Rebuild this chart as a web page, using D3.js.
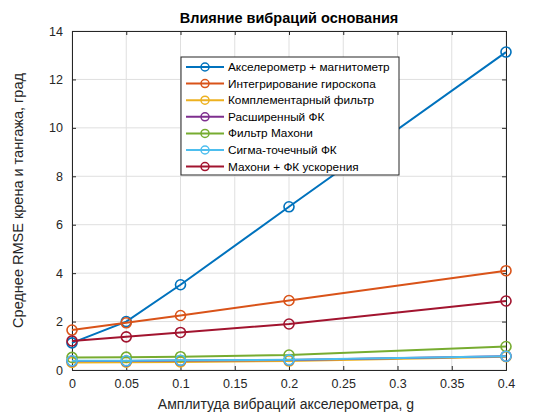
<!DOCTYPE html>
<html>
<head>
<meta charset="utf-8">
<script src="https://cdn.jsdelivr.net/npm/d3@7"></script>
<style>
body { margin: 0; background: #fff; }
text { font-family: "Liberation Sans", Arial, sans-serif; }
</style>
</head>
<body>
<svg id="chart" width="560" height="416"></svg>
<script>
// amplitudes of accelerometer vibration
var amps = [0, 0.05, 0.1, 0.2, 0.4]

var names = ["Акселерометр + магнитометр", "Интегрирование гироскопа", "Комплементарный фильтр",
             "Расширенный ФК", "Фильтр Махони", "Сигма-точечный ФК", "Махони + ФК ускорения"]
var colors = ["#0072BD", "#D95319", "#EDB120", "#7E2F8E", "#77AC30", "#4DBEEE", "#A2142F"]

var accMag = [1.12, 2.0, 3.52, 6.74, 13.13]
var gyro = [1.65, 1.95, 2.25, 2.87, 4.1]
var compl = [0.31, 0.32, 0.33, 0.37, 0.55]
var ekf = [0.37, 0.37, 0.39, 0.41, 0.57]
var mahony = [0.52, 0.53, 0.55, 0.62, 0.97]
var ukf = [0.38, 0.38, 0.4, 0.42, 0.57]
var mahonyKf = [1.2, 1.37, 1.55, 1.9, 2.85]
var series = [accMag, gyro, compl, ekf, mahony, ukf, mahonyKf]

var xTicks = [0, 0.05, 0.1, 0.15, 0.2, 0.25, 0.3, 0.35, 0.4]
var yTicks = [0, 2, 4, 6, 8, 10, 12, 14]

var svg = d3.select("#chart")
// plot box (window.top is reserved, so own names)
var pLeft = 72, pRight = 506, pTop = 31, pBottom = 370

var x = d3.scaleLinear().domain([0, 0.4]).range([pLeft, pRight])
var y = d3.scaleLinear().domain([0, 14]).range([pBottom, pTop])

// grid
svg.append("g").selectAll("line").data(xTicks).enter().append("line")
    .attr("x1", d => x(d)).attr("x2", d => x(d))
    .attr("y1", pTop).attr("y2", pBottom)
    .attr("stroke", "#dfdfdf").attr("stroke-width", 1)
svg.append("g").selectAll("line").data(yTicks).enter().append("line")
    .attr("x1", pLeft).attr("x2", pRight)
    .attr("y1", d => y(d)).attr("y2", d => y(d))
    .attr("stroke", "#dfdfdf").attr("stroke-width", 1)

// axes, ticks inside
var xAxis = svg.append("g").attr("transform", "translate(0," + pBottom + ")")
    .call(d3.axisBottom(x).tickValues(xTicks).tickSize(-4).tickPadding(9).tickFormat(d3.format("~g")))
var xTop = svg.append("g").attr("transform", "translate(0," + pTop + ")")
    .call(d3.axisTop(x).tickValues(xTicks).tickSize(-4).tickFormat(""))
var yAxis = svg.append("g").attr("transform", "translate(" + pLeft + ",0)")
    .call(d3.axisLeft(y).tickValues(yTicks).tickSize(-4).tickPadding(9))
var yRight = svg.append("g").attr("transform", "translate(" + pRight + ",0)")
    .call(d3.axisRight(y).tickValues(yTicks).tickSize(-4).tickFormat(""))

;[xAxis, xTop, yAxis, yRight].forEach(g => {
    g.selectAll("path").attr("stroke", "#262626").attr("stroke-width", 1)
    g.selectAll("line").attr("stroke", "#262626")
    g.selectAll("text").attr("fill", "#262626").style("font-size", "12.5px")
        .style("font-family", "'Liberation Sans', Arial, sans-serif")
})

// lines
var line = d3.line().x((d, i) => x(amps[i])).y(d => y(d))
series.forEach((s, k) => {
    svg.append("path").datum(s)
        .attr("d", line)
        .attr("fill", "none")
        .attr("stroke", colors[k])
        .attr("stroke-width", 2)
    svg.append("g").selectAll("circle").data(s).enter().append("circle")
        .attr("cx", (d, i) => x(amps[i]))
        .attr("cy", d => y(d))
        .attr("r", 5)
        .attr("fill", "none")
        .attr("stroke", colors[k])
        .attr("stroke-width", 1.6)
})

// title and labels
svg.append("text").attr("x", 289).attr("y", 23).attr("text-anchor", "middle")
    .style("font-size", "14.5px").style("font-weight", "bold").attr("fill", "#000")
    .text("Влияние вибраций основания")
svg.append("text").attr("x", 286).attr("y", 409).attr("text-anchor", "middle")
    .style("font-size", "14px").attr("fill", "#262626")
    .text("Амплитуда вибраций акселерометра, g")
svg.append("text").attr("transform", "translate(23," + ((pTop + pBottom) / 2) + ") rotate(-90)")
    .attr("text-anchor", "middle")
    .style("font-size", "14.5px").attr("fill", "#262626")
    .text("Среднее RMSE крена и тангажа, град")

// legend
var lg = svg.append("g").attr("transform", "translate(181,57)")
lg.append("rect").attr("width", 218).attr("height", 118)
    .attr("fill", "#fff").attr("stroke", "#262626").attr("stroke-width", 1)
names.forEach((n, k) => {
    var ly = 10 + k * 16.6
    lg.append("line").attr("x1", 5).attr("x2", 43).attr("y1", ly).attr("y2", ly)
        .attr("stroke", colors[k]).attr("stroke-width", 2)
    lg.append("circle").attr("cx", 24).attr("cy", ly).attr("r", 4)
        .attr("fill", "none").attr("stroke", colors[k]).attr("stroke-width", 1.5)
    lg.append("text").attr("x", 47).attr("y", ly + 4)
        .style("font-size", "11.8px").attr("fill", "#000").text(n)
})
</script>
</body>
</html>
